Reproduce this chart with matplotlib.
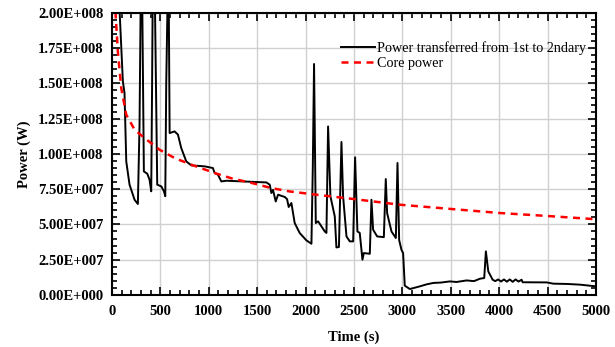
import matplotlib
matplotlib.use('Agg')
import matplotlib.pyplot as plt
import numpy as np
from matplotlib.ticker import MultipleLocator, FuncFormatter

# power transferred from 1st to 2ndary (time s, power W)
t_sec = [0, 80, 113, 130, 148, 182, 234, 268, 285, 300, 310, 330, 365, 389, 406,
         415, 423, 440, 468, 510, 537, 551, 561, 580, 585, 596, 647, 682, 716, 768,
         820, 958, 1043, 1061, 1095, 1130, 1182, 1596, 1630, 1647, 1664, 1692, 1716,
         1785, 1809, 1826, 1854, 1888, 1940, 2009, 2061, 2075, 2088, 2106, 2130,
         2199, 2216, 2233, 2257, 2302, 2319, 2345, 2371, 2388, 2423, 2457, 2492,
         2512, 2536, 2560, 2588, 2602, 2664, 2681, 2698, 2740, 2809, 2829, 2843,
         2888, 2933, 2950, 2967, 2991, 3008, 3025, 3077, 3181, 3250, 3319, 3400,
         3491, 3560, 3664, 3740, 3801, 3846, 3863, 3888, 3933, 3960, 3990, 4020,
         4050, 4080, 4110, 4140, 4170, 4200, 4232, 4243, 4491, 4560, 4700, 4836, 5000]
p_sec = [2.3e8, 2.0e8, 1.514e8, 1.432e8, 0.947e8, 0.782e8, 0.675e8, 0.645e8, 1.2e8,
         2.3e8, 2.3e8, 0.876e8, 0.86e8, 0.817e8, 0.735e8, 1.5e8, 2.3e8, 2.3e8,
         0.782e8, 0.77e8, 0.735e8, 0.70e8, 1.5e8, 2.3e8, 2.3e8, 1.148e8, 1.16e8,
         1.137e8, 1.042e8, 0.947e8, 0.919e8, 0.912e8, 0.90e8, 0.865e8, 0.853e8,
         0.805e8, 0.81e8, 0.798e8, 0.782e8, 0.723e8, 0.745e8, 0.663e8, 0.711e8,
         0.695e8, 0.68e8, 0.624e8, 0.652e8, 0.51e8, 0.439e8, 0.387e8, 0.363e8,
         0.9e8, 1.638e8, 0.51e8, 0.522e8, 0.45e8, 0.44e8, 1.195e8, 0.70e8, 0.557e8,
         0.337e8, 0.34e8, 1.085e8, 0.70e8, 0.415e8, 0.38e8, 0.38e8, 0.976e8, 0.45e8,
         0.44e8, 0.25e8, 0.297e8, 0.292e8, 0.675e8, 0.463e8, 0.415e8, 0.41e8,
         0.822e8, 0.58e8, 0.45e8, 0.404e8, 0.936e8, 0.39e8, 0.32e8, 0.297e8,
         0.066e8, 0.042e8, 0.061e8, 0.075e8, 0.085e8, 0.088e8, 0.096e8, 0.092e8,
         0.103e8, 0.098e8, 0.115e8, 0.12e8, 0.309e8, 0.167e8, 0.108e8, 0.098e8,
         0.11e8, 0.095e8, 0.11e8, 0.094e8, 0.11e8, 0.093e8, 0.11e8, 0.095e8,
         0.108e8, 0.09e8, 0.089e8, 0.08e8, 0.078e8, 0.073e8, 0.061e8]

# core power
t_core = [20, 37, 61, 96, 148, 234, 337, 492, 647, 820, 1061, 1250, 1423, 1647,
          1837, 2112, 2500, 2974, 3500, 4008, 4500, 5000]
p_core = [2.2e8, 2.0e8, 1.727e8, 1.468e8, 1.278e8, 1.172e8, 1.113e8, 1.03e8,
          0.971e8, 0.924e8, 0.865e8, 0.824e8, 0.798e8, 0.758e8, 0.734e8, 0.711e8,
          0.68e8, 0.64e8, 0.61e8, 0.581e8, 0.56e8, 0.537e8]

plt.rcParams['font.family'] = 'Liberation Serif'

fig = plt.figure(figsize=(6.15, 3.47), dpi=100)
ax = fig.add_axes([0.182, 0.150, 0.787, 0.8127])

ax.plot(t_sec, p_sec, color='black', lw=1.4, label='Power transferred from 1st to 2ndary')
ax.plot(t_core, p_core, color='red', lw=1.8, ls=(0, (2.8, 2.2)), label='Core power')

ax.set_xlim(0, 5000)
ax.set_ylim(0, 2e8)
ax.xaxis.set_major_locator(MultipleLocator(500))
ax.xaxis.set_minor_locator(MultipleLocator(100))
ax.yaxis.set_major_locator(MultipleLocator(2.5e7))
ax.yaxis.set_minor_locator(MultipleLocator(5e6))


def sci(v, pos):
    if v == 0:
        return '0.00E+000'
    e = int(np.floor(np.log10(abs(v))))
    m = v / 10 ** e
    return '%.2fE+%03d' % (m, e)


ax.yaxis.set_major_formatter(FuncFormatter(sci))
ax.tick_params(which='both', direction='in', top=True, right=True, width=1.2)
ax.tick_params(which='major', length=6)
ax.tick_params(which='minor', length=3.5)
ax.tick_params(axis='x', pad=7)
ax.tick_params(axis='y', pad=6)
for lab in ax.get_xticklabels() + ax.get_yticklabels():
    lab.set_fontweight('bold')
    lab.set_fontsize(10.5)
for s in ax.spines.values():
    s.set_linewidth(1.5)

ax.grid(True, which='major', color='#d0d0d0', lw=1.0)
ax.set_axisbelow(True)

ax.set_xlabel('Time (s)', fontweight='bold', fontsize=10.5, labelpad=9)
ax.set_ylabel('Power (W)', fontweight='bold', fontsize=10.5, labelpad=5)

ax.legend(loc='upper right', frameon=False, fontsize=10.2, handlelength=2.4,
          handletextpad=0.15, borderaxespad=0.3, labelspacing=0.15,
          bbox_to_anchor=(1.0, 0.935))

fig.savefig('out.png', dpi=100)
